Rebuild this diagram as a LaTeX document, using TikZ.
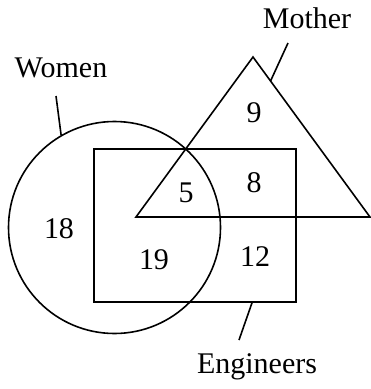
\documentclass[tikz,border=0pt]{standalone}
\usepackage{fontspec}
\setmainfont{Liberation Serif}
\usetikzlibrary{calc}
\begin{document}
\begin{tikzpicture}[x=1pt,y=-1pt,line width=1.6pt,
  txt/.style={font=\fontsize{30}{32}\selectfont, inner sep=0pt},
  setline/.style={draw=black, line width=1.6pt},
  leader/.style={draw=black, line width=1.6pt}]
\useasboundingbox (0,0) rectangle (371,389);
% sets
\node[setline, circle, minimum size=212pt, inner sep=0pt] (women) at (114.5,227.5) {};
\node[setline, rectangle, minimum width=202pt, minimum height=153pt, inner sep=0pt] (eng) at (195,225.5) {};
\coordinate (ta) at (253,57);
\coordinate (tl) at (136,217);
\coordinate (tr) at (370,217);
\draw[setline, line join=miter] (ta) -- (tl) -- (tr) -- cycle;
% labels
\node[txt] (wlab) at (61,68) {Women};
\node[txt] (mlab) at (307,18) {Mother};
\node[txt] (elab) at (257,367) {Engineers};
\coordinate (wl1) at (56,96);
\coordinate (ml1) at (288,43);
\coordinate (el1) at (239,340);
\draw[leader] (wl1) -- (women.120);
\draw[leader] (ml1) -- ($(ta)!0.15!(tr)$);
\draw[leader] (el1) -- ($(eng.south west)!0.78!(eng.south east)$);
% numbers
\node[txt] (n9) at (254,113) {9};
\node[txt] (n5) at (186,193) {5};
\node[txt] (n8) at (254,183) {8};
\node[txt] (n18) at (59,229) {18};
\node[txt] (n19) at (154,260) {19};
\node[txt] (n12) at (255,257) {12};
\end{tikzpicture}
\end{document}
